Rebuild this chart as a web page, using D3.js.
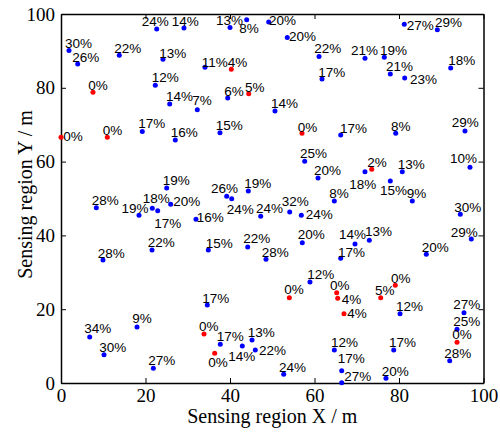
<!DOCTYPE html>
<html>
<head>
<meta charset="utf-8">
<script src="https://cdn.jsdelivr.net/npm/d3@7"></script>
<style>
  body { margin: 0; background: #fff; }
  .tick text { font-family: "Liberation Serif", "Times New Roman", serif; font-size: 19px; fill: #000; }
  .lbl { font-family: "Liberation Sans", Arial, sans-serif; font-size: 13.5px; fill: #000; }
  .title { font-family: "Liberation Serif", "Times New Roman", serif; font-size: 20px; fill: #000; }
</style>
</head>
<body>
<svg id="chart" width="500" height="434"></svg>
<script>
// node positions (m) and reported percentages
var nodeX = [22.65, 29.11, 1.89, 3.95, 13.80, 24.14, 7.57, 22.32, 25.73, 32.26, 19.24,
  40.0, 43.95, 49.16, 53.56, 61.07, 34.08, 40.31, 61.78, 39.46, 44.43, 50.65, 37.63,
  57.04, 66.20, 81.25, 89.07, 71.95, 76.52, 77.94, 81.35, 92.24, 79.22, 95.62, 0,
  10.96, 27.05, 25.02, 8.36, 18.46, 21.61, 22.89, 25.96, 31.95, 21.54, 9.94, 57.68,
  60.83, 39.22, 40.40, 44.33, 47.27, 54.13, 56.88, 64.69, 34.86, 44.19, 48.52, 57.11,
  73.54, 71.95, 77.94, 83.15, 80.78, 96.80, 94.51, 69.59, 72.97, 66.20, 97.11, 86.46,
  6.79, 17.99, 10.18, 21.85, 34.63, 54.04, 58.93, 33.85, 37.70, 36.38, 42.91, 45.21,
  45.99, 52.71, 64.69, 65.25, 65.49, 66.98, 75.67, 79.12, 80.24, 95.38, 93.73, 93.73,
  92.0, 78.75, 66.44, 66.44, 76.92];
var nodeY = [95.94, 96.21, 90.08, 86.48, 88.84, 87.76, 78.81, 80.66, 75.61, 74.07, 68.16,
  96.36, 98.45, 97.82, 93.65, 88.50, 85.57, 85.01, 82.39, 77.24, 78.40, 73.72, 67.83,
  67.67, 67.21, 97.21, 95.75, 87.99, 88.26, 83.73, 82.65, 85.36, 67.67, 68.29, 66.59,
  66.59, 65.86, 52.85, 47.51, 45.45, 47.35, 46.69, 48.43, 44.36, 36.05, 33.33, 60.08,
  55.56, 50.60, 49.95, 52.03, 45.18, 46.34, 45.45, 49.32, 36.05, 36.86, 33.52, 38.02,
  57.91, 57.26, 54.74, 49.32, 57.26, 58.46, 45.72, 37.67, 38.67, 33.80, 39.03, 34.88,
  12.47, 15.18, 7.67, 3.98, 21.14, 23.12, 27.37, 13.28, 10.49, 8.05, 10.03, 11.65,
  8.94, 2.36, 8.94, 24.47, 22.95, 18.78, 23.12, 26.48, 18.78, 19.05, 14.56, 11.03,
  6.04, 8.94, 3.33, 0.08, 1.27];
var nodePct = [24, 14, 30, 26, 22, 13, 0, 12, 14, 7, 17,
  13, 8, 20, 20, 22, 11, 4, 17, 6, 5, 14, 15,
  0, 17, 27, 29, 21, 19, 21, 23, 18, 8, 29, 0,
  0, 16, 19, 28, 19, 18, 17, 20, 16, 22, 28, 25,
  20, 26, 24, 19, 24, 32, 24, 8, 15, 22, 28, 20,
  2, 18, 15, 9, 13, 10, 30, 14, 13, 17, 29, 20,
  34, 9, 30, 27, 17, 0, 12, 0, 17, 0, 14, 13,
  22, 24, 12, 0, 4, 4, 5, 0, 12, 27, 25, 0,
  28, 17, 17, 27, 20];

// label offsets from each node (px), to keep labels apart
var labelDx = [-15, -12.3, -4, -5.4, -5, -3.7, -4.7, -3.6, -3.7, -5, -4,
  -14, -7.4, 0.3, 1.7, -4.7, -3.3, -3.6, -3.7, -3.4, -3.7, -4, -4.3,
  -4.3, -0.7, 2.4, -2.3, -14, -4.3, -4.3, 5.3, -2.4, -4.7, -13.3, 2.3,
  -4.6, -4.6, -4, -4.6, -17.5, -9.5, -3.4, 2.6, 0.7, -4.3, -5.3, -4.7,
  -4, -15.7, -5, -4, -4.7, -8, 4.4, -5, -2.6, -4.4, -4.3, -4.6,
  -4.4, -15.7, -10.3, -5.6, -4.6, -20, -6, -16, -4.3, -2.7, -20.6, -4.6,
  -5.4, -4.7, -4.7, -5, -5, -5, -2.7, -5, -3.6, -6.4, -14, -4.3,
  3.7, -4.7, -3.3, -6.7, 4, 3.3, -5.7, -4.3, -4, -10.7, -3.7, -4.7,
  -5.4, -4.7, -4, 2.6, -4.3];
var labelDy = [-3.3, -2.3, -2.4, -2.3, -2.6, -1.6, -2.3, -3, -2.6, -5, -3.4,
  -2.7, 13.3, 3.4, 4, -3.4, 0, -2.6, -2.3, -2.3, -2, -2.7, -2.7,
  -1.6, -2.3, 5.7, -3, -3.3, -2.3, -3.3, 6.3, -3, -2.3, -3.7, 3.4,
  -2.3, -2.7, -3, -2.7, -2.6, -5.5, 17.6, 1.7, 2.4, -2.7, -1.7, -3,
  -3, -3, 15.3, -3.3, -3, -6, 4, -2.7, -2.3, -4.3, -2, -3.4,
  -2.6, 17.6, 14, -3.3, -2.4, -4, -2.6, -4.7, -4.3, -1.3, -2.3, -2.6,
  -3.7, -3.7, -3, -3.3, -1.7, -3.4, -2.7, -3, -3.6, 13.4, 15, -2.7,
  5, -2.6, -3.3, -2.7, 6, 4.6, -2.7, -2, -3, -3.7, -3.6, -3,
  -3, -3.3, -7.4, -1.7, -2.3];

var xTicks = [0, 20, 40, 60, 80, 100];
var yTicks = [0, 20, 40, 60, 80, 100];

var svg = d3.select("#chart");
var margin = {left: 61, right: 16.5, top: 14, bottom: 51};
var W = 500 - margin.left - margin.right,
    H = 434 - margin.top - margin.bottom;

var g = svg.append("g")
  .attr("transform", "translate(" + margin.left + "," + margin.top + ")");

var x = d3.scaleLinear().domain([0, 100]).range([0, W]);
var y = d3.scaleLinear().domain([0, 100]).range([H, 0]);

// axes, ticks pointing inward on all four sides
g.append("g")
  .attr("transform", "translate(0," + H + ")")
  .call(d3.axisBottom(x).tickValues(xTicks).tickSizeInner(-5).tickSizeOuter(0).tickPadding(5.5));
g.append("g")
  .call(d3.axisLeft(y).tickValues(yTicks).tickSizeInner(-5).tickSizeOuter(0).tickPadding(6));
g.append("g")
  .call(d3.axisTop(x).tickValues(xTicks).tickSizeInner(-5).tickSizeOuter(0).tickFormat(""));
g.append("g")
  .attr("transform", "translate(" + W + ",0)")
  .call(d3.axisRight(y).tickValues(yTicks).tickSizeInner(-5).tickSizeOuter(0).tickFormat(""));

g.selectAll(".domain").attr("stroke", "#000").attr("stroke-width", 1.5);
g.selectAll(".tick line").attr("stroke", "#000").attr("stroke-width", 1);

var nodes = d3.range(nodeX.length).map(function (i) {
  return {x: nodeX[i], y: nodeY[i], pct: nodePct[i], dx: labelDx[i], dy: labelDy[i]};
});

g.selectAll("circle.node")
  .data(nodes)
  .enter()
  .append("circle")
  .attr("class", "node")
  .attr("cx", function (d) { return x(d.x); })
  .attr("cy", function (d) { return y(d.y); })
  .attr("r", 2.5)
  .attr("fill", function (d) { return d.pct <= 5 ? "#ff0000" : "#0000ff"; });

g.selectAll("text.lbl")
  .data(nodes)
  .enter()
  .append("text")
  .attr("class", "lbl")
  .attr("x", function (d) { return x(d.x) + d.dx; })
  .attr("y", function (d) { return y(d.y) + d.dy; })
  .text(function (d) { return d.pct + "%"; });

// axis titles
svg.append("text")
  .attr("class", "title")
  .attr("text-anchor", "middle")
  .attr("x", margin.left + W / 2)
  .attr("y", 423)
  .text("Sensing region X / m");

svg.append("text")
  .attr("class", "title")
  .attr("text-anchor", "middle")
  .attr("transform", "translate(32," + (margin.top + H / 2 - 4) + ") rotate(-90)")
  .text("Sensing region Y / m");
</script>
</body>
</html>
